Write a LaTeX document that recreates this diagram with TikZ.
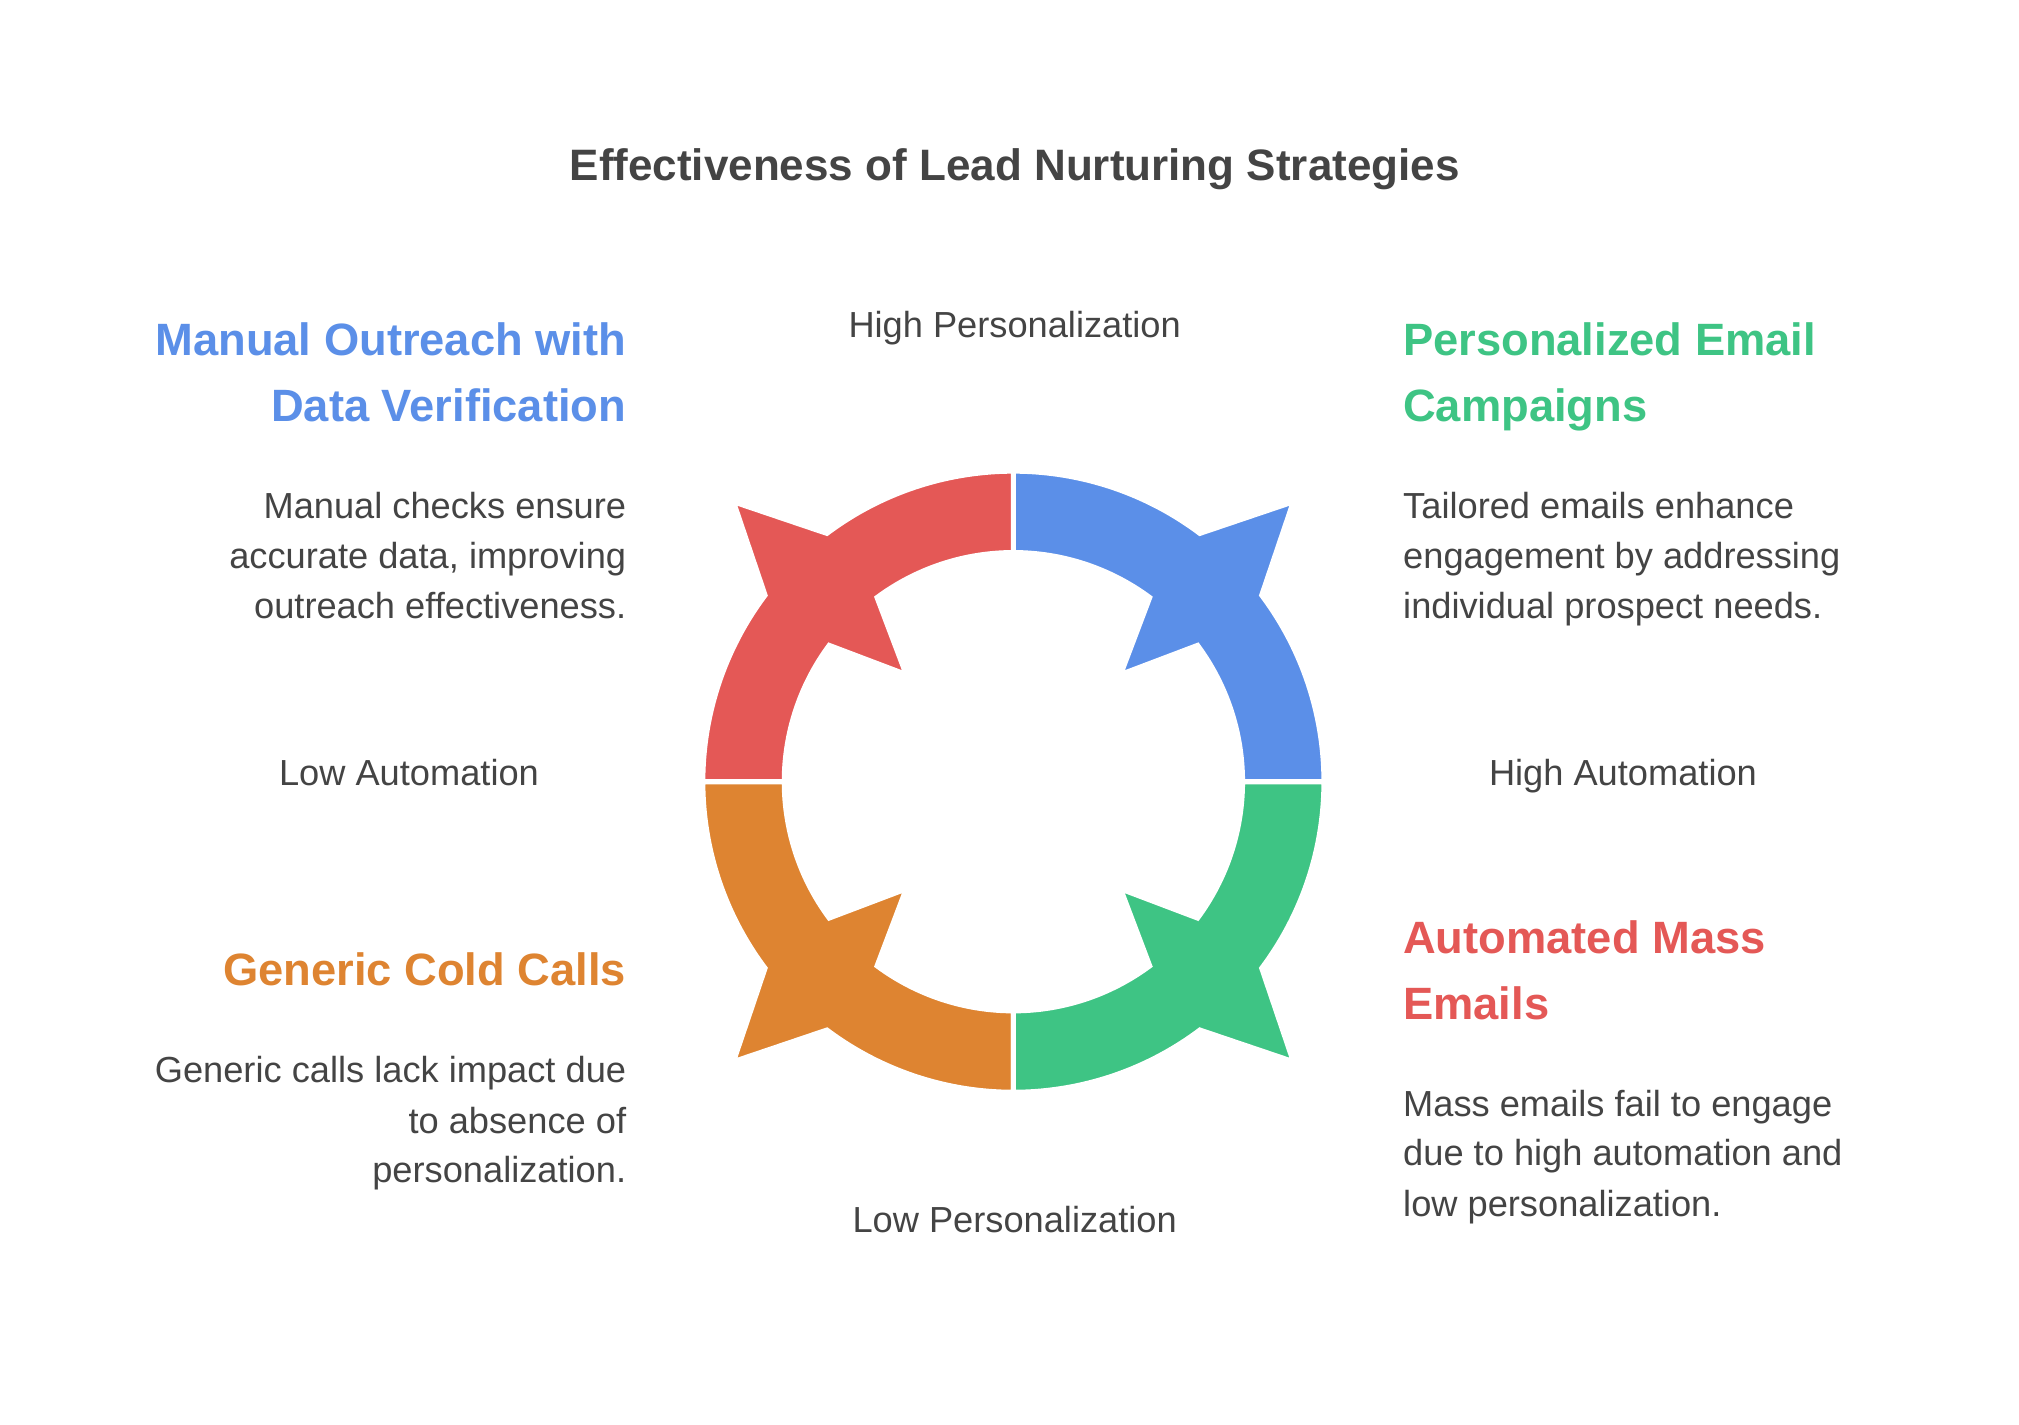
\documentclass[tikz,border=0pt]{standalone}
\usepackage{fontspec}
\setmainfont{Liberation Sans}
\usetikzlibrary{calc}
\definecolor{cblue}{HTML}{5B8FE8}
\definecolor{cred}{HTML}{E45856}
\definecolor{corange}{HTML}{DE8431}
\definecolor{cgreen}{HTML}{3EC484}
\definecolor{txt}{HTML}{444444}
\begin{document}
\begin{tikzpicture}[x=1pt,y=1pt,
  seg/.style={draw=white,line width=4pt,line join=miter},
  ttl/.style={font=\fontsize{34}{40}\selectfont\bfseries,text=txt},
  hd/.style={font=\fontsize{35}{42}\selectfont\bfseries,inner sep=0pt},
  bd/.style={font=\fontsize{28}{34}\selectfont,text=txt,inner sep=0pt},
  ax/.style={font=\fontsize{28}{34}\selectfont,text=txt,inner sep=0pt}]
\useasboundingbox[fill=white] (0,0) rectangle (1560,1101);
\coordinate (c) at (783,497);
\foreach \r/\col in {0/cblue,90/cred,180/corange,270/cgreen}{
\begin{scope}[shift={(c)},rotate=\r]
\path[seg,fill=\col] (0:240pt) arc[start angle=0,end angle=36.9,radius=240pt]
  -- (45:306) -- (53.1:240) arc[start angle=53.1,end angle=90,radius=240pt]
  -- (90:177) arc[start angle=90,end angle=53.5,radius=177pt]
  -- (45:117) -- (36.5:177) arc[start angle=36.5,end angle=0,radius=177pt] -- cycle;
\end{scope}}
\node[ttl] (title) at (784,970) {Effectiveness of Lead Nurturing Strategies};
\node[ax,anchor=mid] (hp) at (784,843) {High Personalization};
\node[ax,anchor=mid] (lp) at (784,151) {Low Personalization};
\node[ax,anchor=mid] (la) at (316,497) {Low Automation};
\node[ax,anchor=mid] (ha) at (1254,497) {High Automation};
% left top
\node[hd,text=cblue,anchor=mid east] (h1a) at (484,829) {Manual Outreach with};
\node[hd,text=cblue,anchor=mid east] (h1b) at (484,778) {Data Verification};
\node[bd,anchor=mid east] (b1a) at (484,703) {Manual checks ensure};
\node[bd,anchor=mid east] (b1b) at (484,664) {accurate data, improving};
\node[bd,anchor=mid east] (b1c) at (484,626) {outreach effectiveness.};
% left bottom
\node[hd,text=corange,anchor=mid east] (h2a) at (484,342) {Generic Cold Calls};
\node[bd,anchor=mid east] (b2a) at (484,267) {Generic calls lack impact due};
\node[bd,anchor=mid east] (b2b) at (484,228) {to absence of};
\node[bd,anchor=mid east] (b2c) at (484,190) {personalization.};
% right top
\node[hd,text=cgreen,anchor=mid west] (h3a) at (1084,829) {Personalized Email};
\node[hd,text=cgreen,anchor=mid west] (h3b) at (1084,778) {Campaigns};
\node[bd,anchor=mid west] (b3a) at (1084,703) {Tailored emails enhance};
\node[bd,anchor=mid west] (b3b) at (1084,664) {engagement by addressing};
\node[bd,anchor=mid west] (b3c) at (1084,626) {individual prospect needs.};
% right bottom
\node[hd,text=cred,anchor=mid west] (h4a) at (1084,367) {Automated Mass};
\node[hd,text=cred,anchor=mid west] (h4b) at (1084,316) {Emails};
\node[bd,anchor=mid west] (b4a) at (1084,241) {Mass emails fail to engage};
\node[bd,anchor=mid west] (b4b) at (1084,203) {due to high automation and};
\node[bd,anchor=mid west] (b4c) at (1084,164) {low personalization.};
\end{tikzpicture}
\end{document}
